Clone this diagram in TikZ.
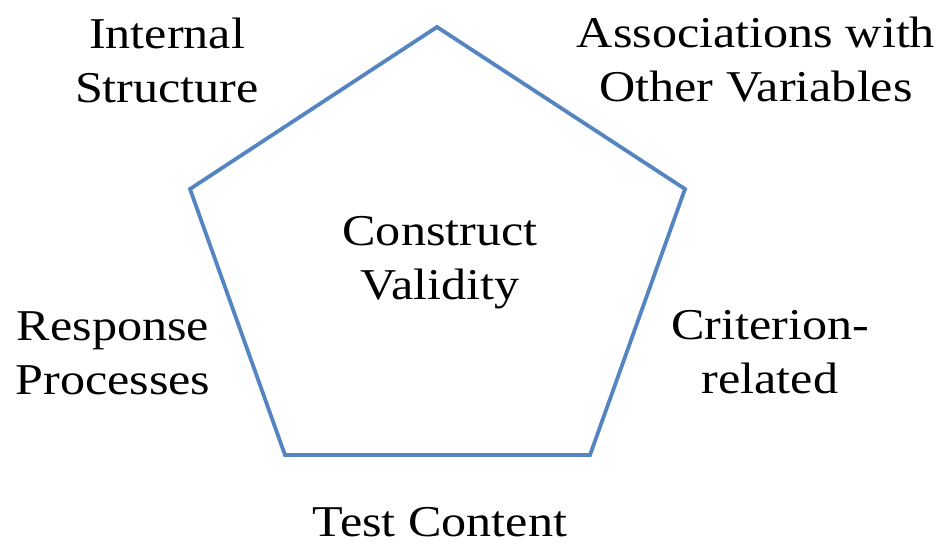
\documentclass[tikz,border=0pt]{standalone}
\usepackage{fontspec}
\setmainfont{Liberation Serif}[FakeStretch=1.14]
\begin{document}
\begin{tikzpicture}[x=1pt,y=-1pt,
  edge/.style={draw=pentblue,line width=3.8pt,line join=miter},
  lbl/.style={align=center,font=\fontsize{44}{54}\selectfont,inner sep=0pt}]
\definecolor{pentblue}{HTML}{5585C0}
\useasboundingbox (0,0) rectangle (942,544);
% pentagon corners
\coordinate (top) at (437,27);
\coordinate (rgt) at (685,189);
\coordinate (brt) at (590,455);
\coordinate (blt) at (285,455);
\coordinate (lft) at (190,189);
\draw[edge] (top) -- (rgt) -- (brt) -- (blt) -- (lft) -- cycle;
% labels
\node[lbl] (center) at (440,263) {Construct\\Validity};
\node[lbl] (internal) at (167,60) {Internal\\Structure};
\node[lbl] (assoc) at (756,60) {Associations with\\Other Variables};
\node[lbl] (crit) at (770,352) {Criterion-\\related};
\node[lbl] (resp) at (113,353) {Response\\Processes};
\node[lbl] (test) at (440,522) {Test Content};
\end{tikzpicture}
\end{document}
